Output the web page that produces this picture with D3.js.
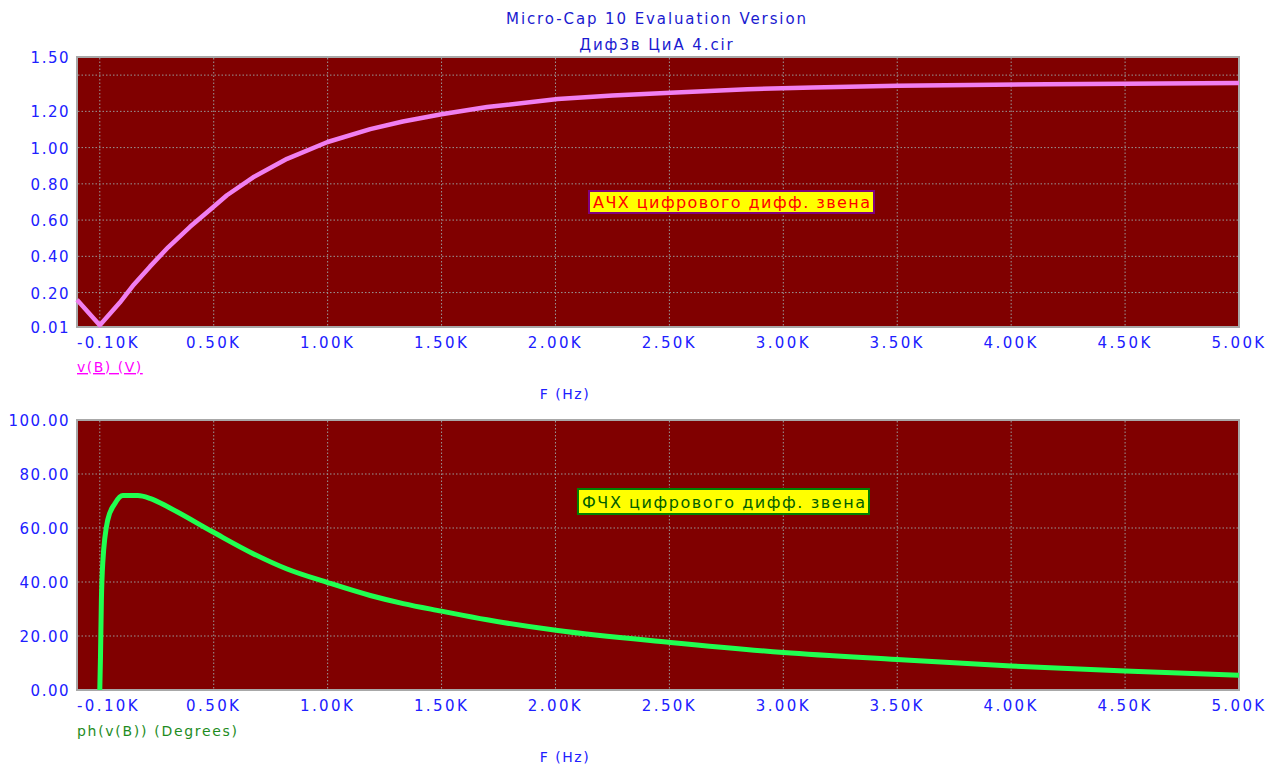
<!DOCTYPE html>
<html>
<head>
<meta charset="utf-8">
<script src="https://cdn.jsdelivr.net/npm/d3@7"></script>
<style>
  body { margin: 0; background: #ffffff; }
  text { font-family: "DejaVu Sans", sans-serif; }
</style>
</head>
<body>
<svg id="chart" width="1284" height="767"></svg>
<script>
// magnitude, v(B) (V)
const magFreq = [-100, 0, 88, 150, 220, 300, 396, 484, 558, 673, 822, 1000, 1187, 1330, 1500, 1700, 2010, 2250, 2505, 2843, 3130, 3500, 4160, 5000];
const magVals = [0.16, 0.02, 0.145, 0.245, 0.343, 0.45, 0.563, 0.657, 0.737, 0.836, 0.938, 1.031, 1.102, 1.144, 1.184, 1.224, 1.268, 1.288, 1.303, 1.322, 1.332, 1.341, 1.35, 1.357];

// phase, ph(v(B)) (Degrees)
const phFreq = [0, 3, 7, 13, 35, 66, 101, 167, 220, 308, 497, 673, 822, 1000, 1187, 1332, 1500, 1700, 2010, 2505, 3000, 3500, 4000, 4500, 5000];
const phVals = [0, 12, 33, 47, 63, 69, 72, 72, 71, 67.4, 58.5, 50.5, 44.8, 39.8, 35, 32, 29.2, 26, 22, 17.6, 13.9, 11.3, 8.9, 7, 5.5];

const xTickLabels = [-100, 500, 1000, 1500, 2000, 2500, 3000, 3500, 4000, 4500, 5000];
const xGrid = [0, 500, 1000, 1500, 2000, 2500, 3000, 3500, 4000, 4500];
const magTickLabels = [0.01, 0.2, 0.4, 0.6, 0.8, 1.0, 1.2, 1.5];
const magGrid = [0.2, 0.4, 0.6, 0.8, 1.0, 1.2, 1.4];
const phTickLabels = [0, 20, 40, 60, 80, 100];
const phGrid = [20, 40, 60, 80];

const svg = d3.select("#chart");
const blue = "#2020ff";

const x = d3.scaleLinear().domain([-100, 5000]).range([77, 1239]);

function drawPanel(top, bottom, yDomain, yLabels, yGrid, freq, vals, color, width, curve) {
    const y = d3.scaleLinear().domain(yDomain).range([bottom, top]);

    svg.append("rect")
        .attr("x", x.range()[0])
        .attr("y", top)
        .attr("width", x.range()[1] - x.range()[0])
        .attr("height", bottom - top)
        .attr("fill", "#800000")
        .attr("stroke", "#a8a8a8")
        .attr("stroke-width", 2)

    svg.append("g").selectAll("line")
        .data(xGrid)
        .join("line")
        .attr("x1", d => x(d)).attr("x2", d => x(d))
        .attr("y1", top + 1).attr("y2", bottom - 1)
        .attr("stroke", "#989898")
        .attr("stroke-dasharray", "1.5,2")

    svg.append("g").selectAll("line")
        .data(yGrid)
        .join("line")
        .attr("x1", x.range()[0] + 1).attr("x2", x.range()[1] - 1)
        .attr("y1", d => y(d)).attr("y2", d => y(d))
        .attr("stroke", "#989898")
        .attr("stroke-dasharray", "1.5,2")

    svg.append("g").selectAll("text")
        .data(yLabels)
        .join("text")
        .attr("x", 70)
        .attr("y", d => y(d) + 6)
        .attr("text-anchor", "end")
        .attr("font-size", 15)
        .attr("letter-spacing", 1.5)
        .attr("fill", blue)
        .text(d => d.toFixed(2))

    svg.append("g").selectAll("text")
        .data(xTickLabels)
        .join("text")
        .attr("x", d => x(d))
        .attr("y", bottom + 21)
        .attr("text-anchor", d => d < 0 ? "start" : "middle")
        .attr("font-size", 15)
        .attr("letter-spacing", 2.4)
        .attr("fill", blue)
        .text(d => (d / 1000).toFixed(2) + "K")

    const line = d3.line()
        .x((d, i) => x(freq[i]))
        .y(d => y(d))
        .curve(curve)

    svg.append("path")
        .datum(vals)
        .attr("d", line)
        .attr("fill", "none")
        .attr("stroke", color)
        .attr("stroke-width", width)
        .attr("stroke-linejoin", "round")
}

drawPanel(57, 327, [0.01, 1.5], magTickLabels, magGrid, magFreq, magVals, "#f07ff0", 4.5, d3.curveLinear);
drawPanel(420, 690, [0, 100], phTickLabels, phGrid, phFreq, phVals, "#20ff50", 5, d3.curveMonotoneX);

// titles
svg.append("text").attr("x", 657).attr("y", 24).attr("text-anchor", "middle")
    .attr("font-size", 15).attr("letter-spacing", 1.9).attr("fill", "#1a1ad0")
    .text("Micro-Cap 10 Evaluation Version")
svg.append("text").attr("x", 657).attr("y", 50).attr("text-anchor", "middle")
    .attr("font-size", 15).attr("letter-spacing", 1.9).attr("fill", "#1a1ad0")
    .text("ДифЗв ЦиА 4.cir")

// axis names
svg.append("text").attr("x", 77).attr("y", 372)
    .attr("font-size", 14).attr("fill", "#ff00ff").attr("text-decoration", "underline")
    .attr("letter-spacing", 1.5)
    .text("v(B) (V)")
svg.append("text").attr("x", 565).attr("y", 399).attr("text-anchor", "middle")
    .attr("font-size", 14).attr("fill", blue).attr("letter-spacing", 1.5)
    .text("F (Hz)")
svg.append("text").attr("x", 77).attr("y", 736)
    .attr("font-size", 14).attr("fill", "#1e8c1e").attr("letter-spacing", 1.7)
    .text("ph(v(B)) (Degrees)")
svg.append("text").attr("x", 565).attr("y", 762).attr("text-anchor", "middle")
    .attr("font-size", 14).attr("fill", blue).attr("letter-spacing", 1.5)
    .text("F (Hz)")

// annotation boxes
function note(bx, by, bw, bh, label, fill, stroke, textColor) {
    svg.append("rect")
        .attr("x", bx).attr("y", by).attr("width", bw).attr("height", bh)
        .attr("fill", fill).attr("stroke", stroke).attr("stroke-width", 2)
    svg.append("text")
        .attr("x", bx + 4).attr("y", by + bh / 2 + 6)
        .attr("font-size", 16)
        .attr("textLength", bw - 8)
        .attr("lengthAdjust", "spacing")
        .attr("fill", textColor)
        .text(label)
}
note(589, 191, 285, 22, "АЧХ цифрового дифф. звена", "#ffff00", "#800080", "#ff0000");
note(578, 489, 291, 25, "ФЧХ цифрового дифф. звена", "#ffff00", "#008000", "#006000");
</script>
</body>
</html>
